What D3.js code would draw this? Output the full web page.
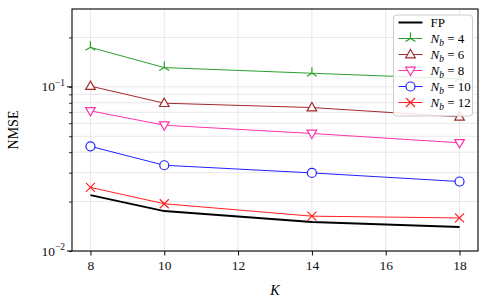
<!DOCTYPE html>
<html>
<head>
    <meta charset="UTF-8">
    <style>
        body { margin: 0; background: white; }
    </style>
</head>
<body>
    <svg width="483" height="299" id="chart"></svg>
    <script src="https://d3js.org/d3.v7.min.js"></script>
    <script>
        let width = 483, height = 299
        let margin = { left: 72, right: 5, top: 9, bottom: 48 }

        // data
        let K = [8, 10, 14, 18]
        let fp = [0.0219, 0.0175, 0.0150, 0.0140]
        let nb4 = [0.174, 0.131, 0.121, 0.112]
        let nb6 = [0.101, 0.0795, 0.0748, 0.0656]
        let nb8 = [0.0714, 0.0584, 0.0520, 0.0456]
        let nb10 = [0.0434, 0.0333, 0.0299, 0.0265]
        let nb12 = [0.0244, 0.0194, 0.0163, 0.0159]
        let xTicks = [8, 10, 12, 14, 16, 18]

        let series = [
            { name: "FP", values: fp, color: "black", marker: "none", width: 2 },
            { name: "4", values: nb4, color: "#2ca02c", marker: "tri", width: 1 },
            { name: "6", values: nb6, color: "#a52a2a", marker: "up", width: 1 },
            { name: "8", values: nb8, color: "#ff33aa", marker: "down", width: 1 },
            { name: "10", values: nb10, color: "#2222ff", marker: "circle", width: 1 },
            { name: "12", values: nb12, color: "#ff2020", marker: "x", width: 1 }
        ]

        let svg = d3.select("#chart")

        let x = d3.scaleLinear()
            .domain([7.5, 18.5])
            .range([margin.left, width - margin.right])

        let y = d3.scaleLog()
            .domain([0.01, 0.298])
            .range([height - margin.bottom, margin.top])

        // grid
        let minorY = []
        for (let d of [0.01, 0.1]) {
            for (let m = 1; m < 10; m++) {
                let v = d * m
                if (v <= 0.298) minorY.push(v)
            }
        }
        let grid = svg.append("g")
        grid.selectAll("line.gy")
            .data(minorY)
            .enter().append("line")
            .attr("x1", margin.left).attr("x2", width - margin.right)
            .attr("y1", d => y(d)).attr("y2", d => y(d))
            .attr("stroke", "#e2e2e2").attr("stroke-width", 0.8)
        grid.selectAll("line.gx")
            .data(xTicks)
            .enter().append("line")
            .attr("x1", d => x(d)).attr("x2", d => x(d))
            .attr("y1", margin.top).attr("y2", height - margin.bottom)
            .attr("stroke", "#e2e2e2").attr("stroke-width", 0.8)

        // marker shapes
        function drawMarker(g, kind, color) {
            if (kind == "tri") {
                g.append("path").attr("d", "M0,0 L0,-6 M0,0 L-5,3 M0,0 L5,3")
                    .attr("stroke", color).attr("stroke-width", 1.2).attr("fill", "none")
            } else if (kind == "up") {
                g.append("path").attr("d", "M0,-5 L4.8,3.3 L-4.8,3.3 Z")
                    .attr("stroke", color).attr("stroke-width", 1.2).attr("fill", "white")
            } else if (kind == "down") {
                g.append("path").attr("d", "M0,5 L4.8,-3.3 L-4.8,-3.3 Z")
                    .attr("stroke", color).attr("stroke-width", 1.2).attr("fill", "white")
            } else if (kind == "circle") {
                g.append("circle").attr("r", 4.5)
                    .attr("stroke", color).attr("stroke-width", 1.2).attr("fill", "white")
            } else if (kind == "x") {
                g.append("path").attr("d", "M-4.5,-4.5 L4.5,4.5 M-4.5,4.5 L4.5,-4.5")
                    .attr("stroke", color).attr("stroke-width", 1.2).attr("fill", "none")
            }
        }

        let line = d3.line()
            .x((d, i) => x(K[i]))
            .y(d => y(d))

        series.forEach(s => {
            svg.append("path")
                .datum(s.values)
                .attr("d", line)
                .attr("fill", "none")
                .attr("stroke", s.color)
                .attr("stroke-width", s.width)
            s.values.forEach((v, i) => {
                let g = svg.append("g").attr("transform", "translate(" + x(K[i]) + "," + y(v) + ")")
                drawMarker(g, s.marker, s.color)
            })
        })

        // axes
        let xAxis = d3.axisBottom(x).tickValues(xTicks).tickSize(4.5).tickPadding(5)
        let gx = svg.append("g")
            .attr("transform", "translate(0," + (height - margin.bottom) + ")")
            .call(xAxis)
            .attr("font-size", 13.5)
        gx.select(".domain").remove()
        gx.selectAll("text").attr("fill", "#111")

        let yAxis = d3.axisLeft(y).tickValues(minorY).tickSize(3).tickFormat("")
        let gy = svg.append("g")
            .attr("transform", "translate(" + margin.left + ",0)")
            .call(yAxis)
        gy.select(".domain").remove()
        gy.selectAll(".tick line").attr("stroke-width", 0.8)

        // major y ticks
        let major = [0.01, 0.1]
        let gm = svg.append("g")
        gm.selectAll("line")
            .data(major)
            .enter().append("line")
            .attr("x1", margin.left - 5).attr("x2", margin.left)
            .attr("y1", d => y(d)).attr("y2", d => y(d))
            .attr("stroke", "black").attr("stroke-width", 1)
        let lbl = gm.selectAll("text")
            .data(major)
            .enter().append("text")
            .attr("x", margin.left - 7)
            .attr("y", d => y(d) + 4.5)
            .attr("text-anchor", "end")
            .attr("font-size", 13.5)
            .attr("fill", "#111")
        lbl.append("tspan").text("10")
        lbl.append("tspan").attr("dy", -5.5).attr("font-size", 9.5).text(d => "\u2212" + Math.round(-Math.log10(d)))

        // frame
        svg.append("rect")
            .attr("x", margin.left).attr("y", margin.top)
            .attr("width", width - margin.left - margin.right)
            .attr("height", height - margin.top - margin.bottom)
            .attr("fill", "none").attr("stroke", "black").attr("stroke-width", 1.1)

        // labels
        svg.append("text")
            .attr("x", x(13)).attr("y", 295)
            .attr("text-anchor", "middle")
            .attr("font-size", 14).attr("font-style", "italic")
            .text("K")
        svg.append("text")
            .attr("transform", "translate(18," + ((margin.top + height - margin.bottom) / 2) + ") rotate(-90)")
            .attr("text-anchor", "middle")
            .attr("font-size", 14)
            .text("NMSE")

        // legend
        let lg = svg.append("g").attr("transform", "translate(393.5,15)")
        lg.append("rect")
            .attr("width", 79).attr("height", 101)
            .attr("rx", 3)
            .attr("fill", "white").attr("fill-opacity", 0.85)
            .attr("stroke", "#cccccc").attr("stroke-width", 1)
        series.forEach((s, i) => {
            let row = lg.append("g").attr("transform", "translate(0," + (7.5 + i * 16) + ")")
            row.append("line")
                .attr("x1", 5).attr("x2", 29)
                .attr("stroke", s.color).attr("stroke-width", s.width)
            let m = row.append("g").attr("transform", "translate(17,0)")
            drawMarker(m, s.marker, s.color)
            let t = row.append("text")
                .attr("x", 37).attr("y", 4.5)
                .attr("font-size", 13)
            if (s.name == "FP") {
                t.text("FP")
            } else {
                t.append("tspan").attr("font-style", "italic").text("N")
                t.append("tspan").attr("font-style", "italic").attr("font-size", 9.5).attr("dy", 3).text("b")
                t.append("tspan").attr("dy", -3).text(" = " + s.name)
            }
        })

        // serif everywhere
        svg.selectAll("text").style("font-family", "'Liberation Serif'")
    </script>
</body>
</html>
